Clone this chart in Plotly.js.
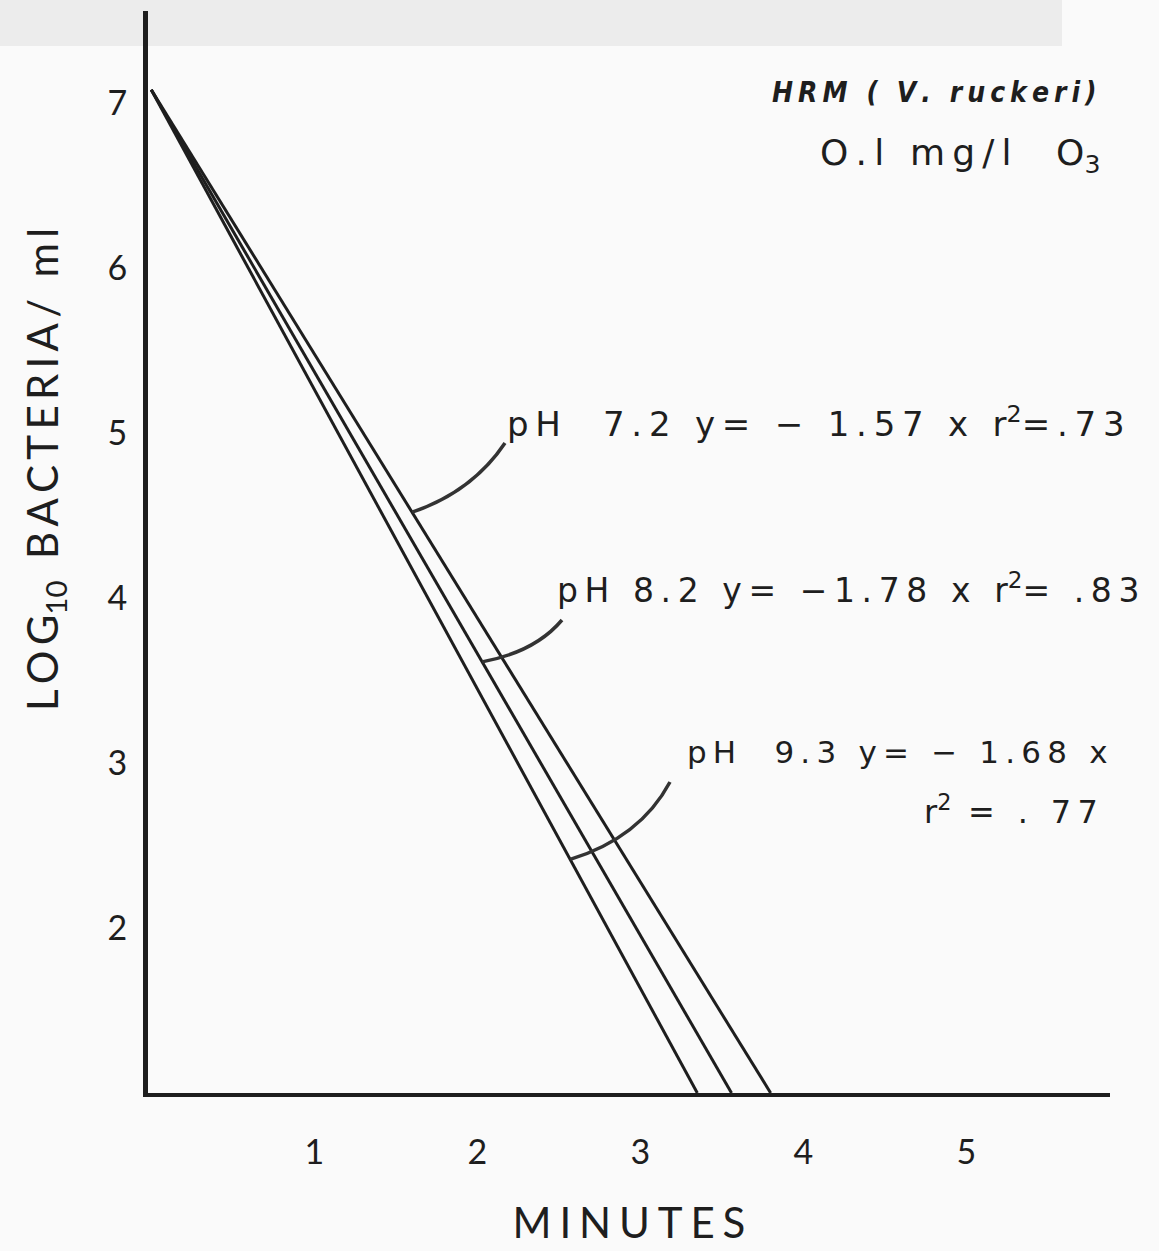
<!DOCTYPE html>
<html>
<head>
<meta charset="utf-8">
<script src="https://cdn.plot.ly/plotly-3.0.1.min.js"></script>
<style>html,body{margin:0;padding:0;background:#fafafa;}</style>
</head>
<body>
<div id="chart" style="width:1159px;height:1251px;"></div>
<script>
// ---- data ----
const seriesNames = ['pH 7.2', 'pH 8.2', 'pH 9.3'];
const startMinutes = [0, 0, 0];
const startLog = [7.08, 7.08, 7.08];
const endMinutes = [3.80, 3.56, 3.35];
const endLog = [1, 1, 1];
const equations = [
  'pH  7.2 y= \u2212 1.57 x r<sup>2</sup>=.73',
  'pH 8.2 y= \u22121.78 x r<sup>2</sup>= .83',
  'pH  9.3 y= \u2212 1.68 x'
];
const extraR2 = 'r<sup>2</sup> = . 77';
const leaderOnLineMinutes = [1.60, 2.03, 2.57];
const xTickVals = [1, 2, 3, 4, 5];
const xTickText = ['1', '2', '3', '4', '5'];
const yTickVals = [2, 3, 4, 5, 6, 7];
const yTickText = ['2', '3', '4', '5', '6', '7'];

// ---- layout geometry ----
const W = 1159, H = 1251;
const L = 148, R = 1110, T = 11, B = 1093;
const xRange = [-0.02, (R - L) / 163 - 0.02];
const yRange = [1, 1 + (B - T) / 165];
const px = x => (x - L) / (R - L);
const py = y => (B - y) / (B - T);
const dx = p => xRange[0] + (p - L) / (R - L) * (xRange[1] - xRange[0]);
const dy = p => yRange[0] + (B - p) / (B - T) * (yRange[1] - yRange[0]);

// letter-spacing helper: spaces -> nbsp, gap char between glyphs (tags untouched)
function spaced(s, gap) {
  return s.split(/(<[^>]+>)/).map(part => {
    if (part.startsWith('<')) return part;
    return Array.from(part).map(c => c === ' ' ? '\u00A0' : c).join(gap);
  }).join('');
}

const FONT = 'Lato, "Noto Sans", sans-serif';
const LFONT = '"DejaVu Sans", "Noto Sans", sans-serif';
const INK = '#1e1e1e';

const traces = seriesNames.map((n, i) => ({
  type: 'scatter', mode: 'lines', name: n,
  x: [startMinutes[i], endMinutes[i]],
  y: [startLog[i], endLog[i]],
  line: {color: INK, width: 3},
  hoverinfo: 'skip', showlegend: false
}));

function onLine(i, m) {
  const t = (m - startMinutes[i]) / (endMinutes[i] - startMinutes[i]);
  return startLog[i] + t * (endLog[i] - startLog[i]);
}

const leaderStarts = [[505, 443], [562, 620], [670, 782]];
const leaderCtrl = [[472, 492], [535, 652], [640, 838]];
const shapes = [
  {type: 'rect', xref: 'paper', yref: 'paper', x0: px(0), x1: px(1062), y0: py(0), y1: py(46),
   fillcolor: '#ececec', line: {width: 0}, layer: 'below'}
];
leaderStarts.forEach((s, i) => {
  const m = leaderOnLineMinutes[i];
  const v = onLine(i, m);
  shapes.push({
    type: 'path', xref: 'x', yref: 'y',
    path: `M ${dx(s[0])},${dy(s[1])} Q ${dx(leaderCtrl[i][0])},${dy(leaderCtrl[i][1])} ${m},${v}`,
    line: {color: '#333', width: 3.5}
  });
});

const annotations = [
  {xref: 'paper', yref: 'paper', x: px(505), y: py(422), xanchor: 'left', yanchor: 'middle',
   text: spaced(equations[0], '\u2009'), showarrow: false, font: {family: LFONT, size: 34, color: INK}},
  {xref: 'paper', yref: 'paper', x: px(555), y: py(588), xanchor: 'left', yanchor: 'middle',
   text: spaced(equations[1], '\u2009'), showarrow: false, font: {family: LFONT, size: 33, color: INK}},
  {xref: 'paper', yref: 'paper', x: px(685), y: py(752), xanchor: 'left', yanchor: 'middle',
   text: spaced(equations[2], '\u2009'), showarrow: false, font: {family: LFONT, size: 31, color: INK}},
  {xref: 'paper', yref: 'paper', x: px(1100), y: py(810), xanchor: 'right', yanchor: 'middle',
   text: spaced(extraR2, '\u2009'), showarrow: false, font: {family: LFONT, size: 32, color: INK}},
  {xref: 'paper', yref: 'paper', x: px(934), y: py(93), xanchor: 'center', yanchor: 'middle',
   text: '<b><i>' + spaced('HRM ( V. ruckeri)', '\u2009') + '</i></b>', showarrow: false,
   font: {family: '"Liberation Sans Narrow", "DejaVu Sans Condensed", "Liberation Sans", sans-serif', size: 28, color: INK}},
  {xref: 'paper', yref: 'paper', x: px(960), y: py(155), xanchor: 'center', yanchor: 'middle',
   text: spaced('O.l mg/l  O', '\u2009') + '<sub>3</sub>', showarrow: false,
   font: {family: LFONT, size: 36, color: INK}},
  {xref: 'paper', yref: 'paper', x: px(45), y: py(470), xanchor: 'center', yanchor: 'middle',
   textangle: -90,
   text: spaced('LOG', '\u2009') + '<sub>10</sub>\u00A0\u00A0' + spaced('BACTERIA/ ml', '\u2009'),
   showarrow: false, font: {family: FONT, size: 42, color: INK}}
];

const layout = {
  width: W, height: H,
  paper_bgcolor: '#fafafa', plot_bgcolor: 'rgba(0,0,0,0)',
  margin: {l: L, r: W - R, t: T, b: H - B, pad: 0},
  showlegend: false,
  xaxis: {
    range: xRange, tickvals: xTickVals, ticktext: xTickText,
    showgrid: false, zeroline: false, showline: true, linecolor: INK, linewidth: 4,
    ticks: '', ticklabelstandoff: 26,
    tickfont: {family: FONT, size: 34, color: INK},
    title: {text: spaced('MINUTES', '\u2009\u200A'), standoff: 40,
            font: {family: FONT, size: 42, color: INK}}
  },
  yaxis: {
    range: yRange, tickvals: yTickVals, ticktext: yTickText,
    showgrid: false, zeroline: false, showline: true, linecolor: INK, linewidth: 5,
    ticks: '', ticklabelstandoff: 9,
    tickfont: {family: FONT, size: 34, color: INK}
  },
  shapes: shapes,
  annotations: annotations
};

Plotly.newPlot('chart', traces, layout, {displayModeBar: false, staticPlot: true});
</script>
</body>
</html>
